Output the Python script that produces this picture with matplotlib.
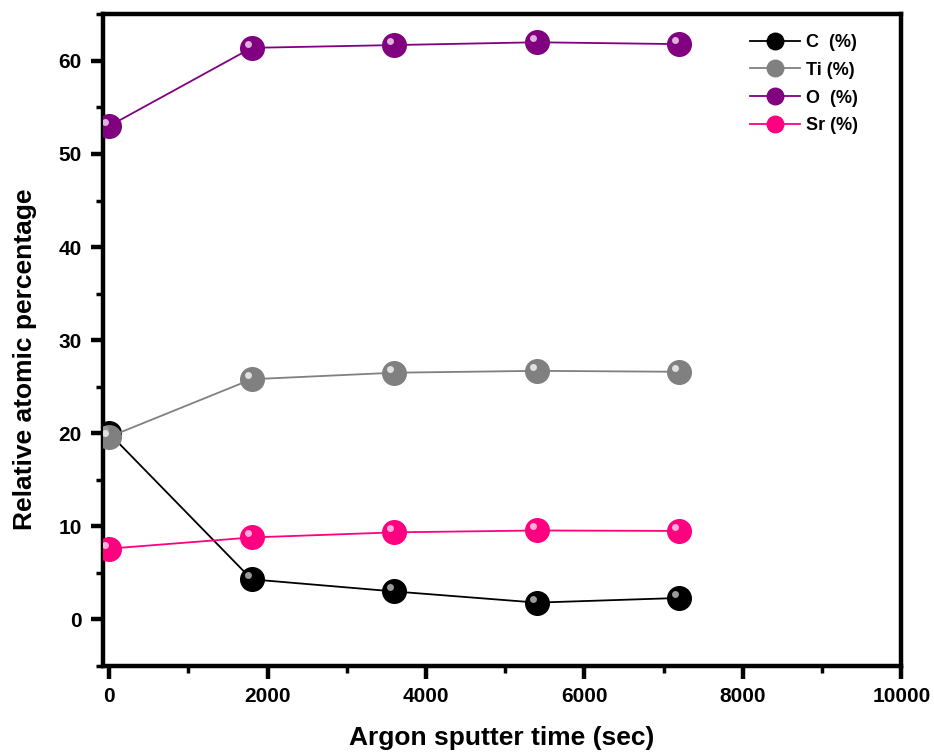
import matplotlib
matplotlib.use("Agg")
import matplotlib.pyplot as plt
import matplotlib.transforms as mtransforms
from matplotlib.ticker import MultipleLocator

plt.rcParams['font.family'] = ['Liberation Sans', 'DejaVu Sans']
plt.rcParams['font.weight'] = 'bold'

time_sec = [0, 1800, 3600, 5400, 7200]
c_pct = [20.0, 4.3, 3.0, 1.8, 2.3]
ti_pct = [19.6, 25.8, 26.5, 26.7, 26.6]
o_pct = [53.0, 61.4, 61.7, 62.0, 61.8]
sr_pct = [7.6, 8.8, 9.35, 9.55, 9.5]

series = [
    ("C  (%)", c_pct, "#000000", "#9a9a9a"),
    ("Ti (%)", ti_pct, "#808080", "#e0e0e0"),
    ("O  (%)", o_pct, "#800080", "#e0b0e0"),
    ("Sr (%)", sr_pct, "#ff0080", "#ffb0d8"),
]

fig = plt.figure(figsize=(9.34, 7.55), dpi=100)
ax = fig.add_axes([0.110, 0.118, 0.855, 0.863])

offset = mtransforms.ScaledTranslation(-4 / 100, 4 / 100, fig.dpi_scale_trans)
for label, vals, col, hl in series:
    ax.plot(time_sec, vals, '-', color=col, lw=1.3, marker='o', ms=17,
            mec=col, mfc=col, label=label, zorder=3)
    ax.plot(time_sec, vals, 'none', marker='o', ms=5, mfc=hl, mec='none',
            transform=ax.transData + offset, zorder=4)

ax.set_xlim(-80, 10000)
ax.set_ylim(-5, 65)
ax.xaxis.set_major_locator(MultipleLocator(2000))
ax.xaxis.set_minor_locator(MultipleLocator(1000))
ax.yaxis.set_major_locator(MultipleLocator(10))
ax.yaxis.set_minor_locator(MultipleLocator(5))
ax.set_yticks(range(0, 61, 10))

for s in ax.spines.values():
    s.set_linewidth(3.2)
ax.tick_params(which='major', direction='out', length=9, width=3.2,
               labelsize=15, pad=6)
ax.tick_params(which='minor', direction='out', length=5, width=2.5)
for t in ax.get_xticklabels() + ax.get_yticklabels():
    t.set_fontweight('bold')

ax.set_xlabel("Argon sputter time (sec)", fontsize=19, fontweight='bold')
ax.xaxis.set_label_coords(0.5, -0.092)
ax.set_ylabel("Relative atomic percentage", fontsize=19, fontweight='bold')
ax.yaxis.set_label_coords(-0.082, 0.47)

leg = ax.legend(loc='upper left', bbox_to_anchor=(0.79, 0.995), frameon=False,
                markerscale=0.7, handlelength=2.8, handletextpad=0.3,
                labelspacing=0.6, prop={'weight': 'bold', 'size': 13})

fig.savefig("out.png", dpi=100)
